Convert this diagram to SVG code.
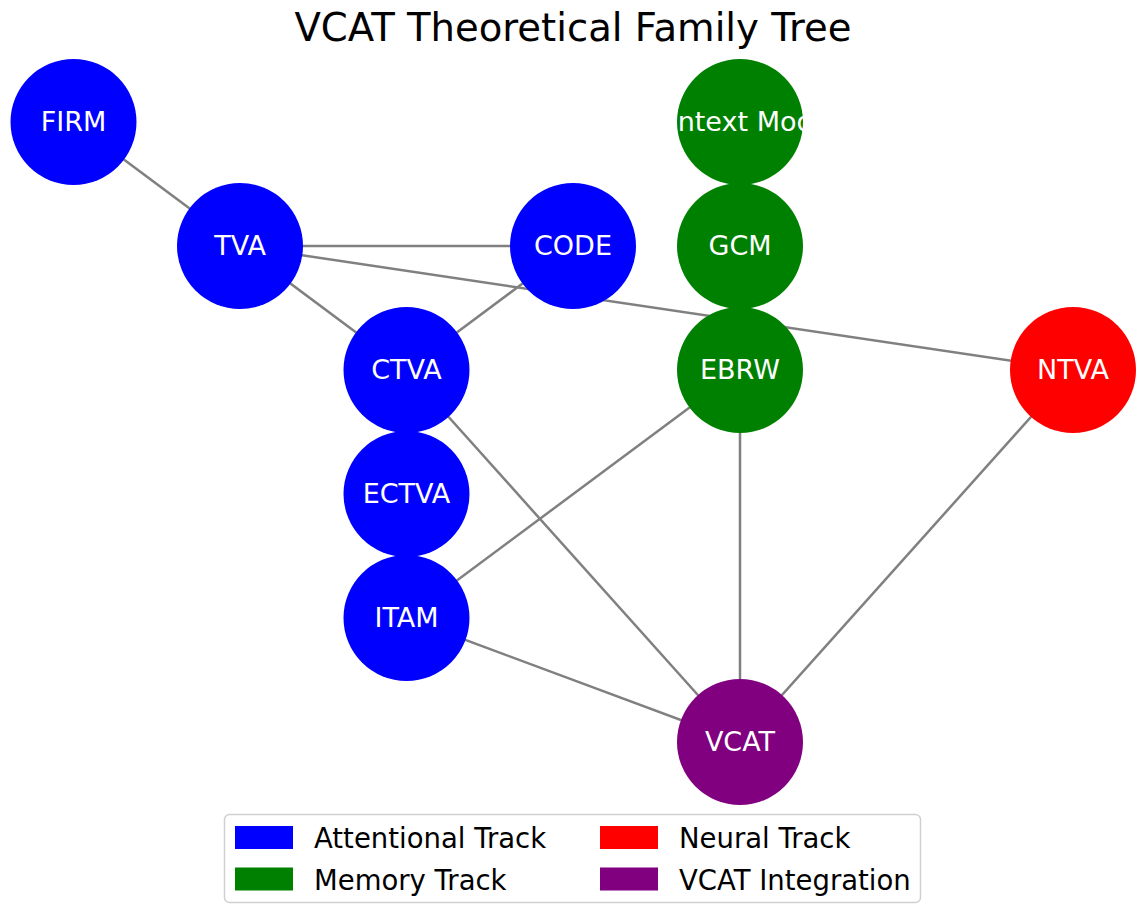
<svg xmlns="http://www.w3.org/2000/svg" width="1144" height="905" viewBox="0 0 1144 905">
<style>
text{font-family:"DejaVu Sans","Liberation Sans",sans-serif}
.lbl{font-size:27px;fill:#ffffff;text-anchor:middle}
.edge{stroke:#808080;stroke-width:2.5;fill:none}
.att{fill:#0000ff}
.mem{fill:#008000}
.neu{fill:#ff0000}
.vc{fill:#800080}
.leg{font-size:27.5px;fill:#000000}
</style>
<rect width="1144" height="905" fill="#ffffff"/>
<text x="573" y="41" text-anchor="middle" style="font-size:38.6px;fill:#000">VCAT Theoretical Family Tree</text>
<g id="connectors">
<line class="edge" x1="73.5" y1="122" x2="240" y2="246"/>
<line class="edge" x1="240" y1="246" x2="573" y2="246"/>
<line class="edge" x1="240" y1="246" x2="406.5" y2="370"/>
<line class="edge" x1="240" y1="246" x2="1073" y2="370"/>
<line class="edge" x1="573" y1="246" x2="406.5" y2="370"/>
<line class="edge" x1="406.5" y1="370" x2="740" y2="742"/>
<line class="edge" x1="740" y1="370" x2="406.5" y2="618"/>
<line class="edge" x1="740" y1="370" x2="740" y2="742"/>
<line class="edge" x1="1073" y1="370" x2="740" y2="742"/>
<line class="edge" x1="406.5" y1="618" x2="740" y2="742"/>
</g>
<g id="FIRM"><circle class="att" cx="73.5" cy="122" r="63"/><text class="lbl" x="73.5" y="131">FIRM</text></g>
<g id="TVA"><circle class="att" cx="240" cy="246" r="63"/><text class="lbl" x="240" y="255">TVA</text></g>
<g id="CODE"><circle class="att" cx="573" cy="246" r="63"/><text class="lbl" x="573" y="255">CODE</text></g>
<g id="CTVA"><circle class="att" cx="406.5" cy="370" r="63"/><text class="lbl" x="406.5" y="379">CTVA</text></g>
<g id="ECTVA"><circle class="att" cx="406.5" cy="494" r="63"/><text class="lbl" x="406.5" y="503">ECTVA</text></g>
<g id="ITAM"><circle class="att" cx="406.5" cy="618" r="63"/><text class="lbl" x="406.5" y="627">ITAM</text></g>
<g id="ContextModel"><circle class="mem" cx="740" cy="122" r="63"/><text class="lbl" x="740" y="131">Context Model</text></g>
<g id="GCM"><circle class="mem" cx="740" cy="246" r="63"/><text class="lbl" x="740" y="255">GCM</text></g>
<g id="EBRW"><circle class="mem" cx="740" cy="370" r="63"/><text class="lbl" x="740" y="379">EBRW</text></g>
<g id="NTVA"><circle class="neu" cx="1073" cy="370" r="63"/><text class="lbl" x="1073" y="379">NTVA</text></g>
<g id="VCAT"><circle class="vc" cx="740" cy="742" r="63"/><text class="lbl" x="740" y="751">VCAT</text></g>
<g id="legend">
<rect x="224.5" y="814.5" width="696" height="88" rx="5" fill="#ffffff" fill-opacity="0.8" stroke="#d0d0d0" stroke-width="1.5"/>
<rect class="att" x="235" y="826" width="58" height="23"/>
<text class="leg" x="314" y="848">Attentional Track</text>
<rect class="mem" x="235" y="867.5" width="58" height="23"/>
<text class="leg" x="314" y="890">Memory Track</text>
<rect class="neu" x="600" y="826" width="58" height="23"/>
<text class="leg" x="679" y="848">Neural Track</text>
<rect class="vc" x="600" y="867.5" width="58" height="23"/>
<text class="leg" x="679" y="890">VCAT Integration</text>
</g>
</svg>
